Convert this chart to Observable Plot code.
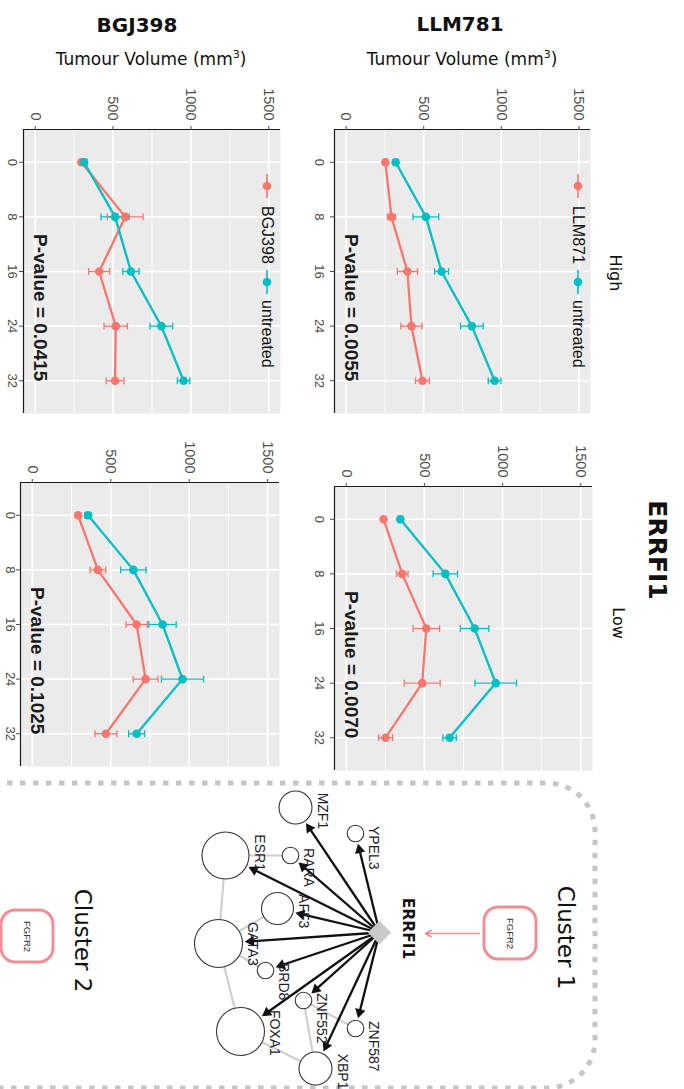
<!DOCTYPE html>
<html><head><meta charset="utf-8">
<script src="https://cdn.jsdelivr.net/npm/d3@7"></script>
<script src="https://cdn.jsdelivr.net/npm/@observablehq/plot@0.6"></script>
<style>
html,body{margin:0;padding:0;background:#fff;}
#fig{position:relative;width:684px;height:1089px;overflow:hidden;background:#fff;}
#fig svg{position:absolute;}
</style></head><body><div id="fig"></div>
<script>
// ---------------- data: tumour growth curves ----------------
const days = [0, 8, 16, 24, 32];
const volumeTicks = [0, 500, 1000, 1500];
const volumeMinorTicks = [250, 750, 1250];

const llmHighTreated = [253, 292, 395, 421, 492];
const llmHighTreatedSE = [12, 25, 65, 68, 45];
const llmHighUntreated = [319, 514, 615, 810, 957];
const llmHighUntreatedSE = [15, 83, 45, 73, 41];

const llmLowTreated = [239, 358, 512, 486, 252];
const llmLowTreatedSE = [10, 37, 85, 115, 45];
const llmLowUntreated = [346, 634, 821, 956, 661];
const llmLowUntreatedSE = [15, 78, 91, 133, 43];

const bgjHighTreated = [297, 578, 411, 517, 513];
const bgjHighTreatedSE = [15, 115, 68, 75, 57];
const bgjHighUntreated = [314, 513, 615, 810, 953];
const bgjHighUntreatedSE = [20, 90, 52, 73, 40];

const bgjLowTreated = [292, 418, 665, 722, 469];
const bgjLowTreatedSE = [10, 50, 68, 79, 70];
const bgjLowUntreated = [355, 644, 830, 957, 665];
const bgjLowUntreatedSE = [20, 81, 87, 134, 51];

const pValueLlmHigh = "0.0055";
const pValueLlmLow = "0.0070";
const pValueBgjHigh = "0.0415";
const pValueBgjLow = "0.1025";

// ---------------- data: ERRFI1 network ----------------
const hubGene = "ERRFI1";
const targetGenes = ["MZF1", "YPEL3", "ESR1", "RARA", "AFF3", "GATA3", "BRD8", "ZNF552", "ZNF587", "FOXA1", "XBP1"];
const targetLayoutX = [295, 355, 225, 290, 277, 218, 265, 303, 355, 240, 315];
const targetLayoutY = [807, 833, 855, 855, 908, 943, 970, 1000, 1028, 1031, 1068];
const targetRadius = [16.5, 8.3, 23.5, 8.3, 16, 24, 8.3, 8.3, 8.3, 24, 16.5];
const hubLayout = [379, 932];
const coexpressionEdges = [["ESR1", "RARA"], ["ESR1", "GATA3"], ["AFF3", "GATA3"], ["GATA3", "BRD8"],
  ["GATA3", "FOXA1"], ["FOXA1", "XBP1"], ["ZNF552", "XBP1"], ["ZNF552", "ZNF587"]];
const clusterNames = ["Cluster 1", "Cluster 2"];
const clusterGene = "FGFR2";
const clusterGeneLayoutX = [510, 27];
const clusterGeneLayoutY = [933, 936];

// ---------------- layout ----------------
const fig = document.getElementById("fig");
const RED = "#F8766D", TEAL = "#00BFC4";
const SANS = "'Liberation Sans', Arial, sans-serif";
const DEJA = "'DejaVu Sans', sans-serif";
const pValueDay = 21.3, pValueVolume = 30;

function place(el, left, top) {
  el.style.left = left + "px"; el.style.top = top + "px";
  fig.appendChild(el);
}

function drawPanel(cfg) {
  const [fx1, fx2, fy1, fy2] = cfg.frame;
  const mL = 32, mT = 52, mR = 4, mB = 4;
  const rows = [];
  days.forEach((day, i) => {
    rows.push({day, group: cfg.treatedName, v: cfg.treated[i], se: cfg.treatedSE[i]});
    rows.push({day, group: "untreated", v: cfg.untreated[i], se: cfg.untreatedSE[i]});
  });
  const caps = rows.flatMap(d => [d.v - d.se, d.v + d.se].map(v => ({v, day: d.day, group: d.group})));
  const axisStyle = {tickRotate: 90, tickSize: 4, fontFamily: SANS, label: null, color: "#4d4d4d"};
  const chart = Plot.plot({
    width: fx2 - fx1 + mL + mR,
    height: fy2 - fy1 + mT + mB,
    marginLeft: mL, marginTop: mT, marginRight: mR, marginBottom: mB,
    x: {domain: [-75, 1575]},
    y: {domain: [-4.8, 36.8], reverse: true},
    color: {domain: [cfg.treatedName, "untreated"], range: [RED, TEAL]},
    style: {background: "transparent", fontFamily: SANS, color: "#4d4d4d"},
    marks: [
      Plot.frame({fill: "#EBEBEB", stroke: null}),
      Plot.gridX({ticks: volumeMinorTicks, stroke: "#fff", strokeOpacity: 1, strokeWidth: 0.9}),
      Plot.gridX({ticks: volumeTicks, stroke: "#fff", strokeOpacity: 1, strokeWidth: 1.6}),
      Plot.gridY({ticks: days, stroke: "#fff", strokeOpacity: 1, strokeWidth: 1.6}),
      Plot.ruleY([-4.8], {stroke: "#1a1a1a", strokeWidth: 1.2}),
      Plot.ruleX([-75], {stroke: "#1a1a1a", strokeWidth: 1.2}),
      Plot.axisX({...axisStyle, anchor: "top", ticks: volumeTicks, tickFormat: d => String(d), tickPadding: 5, fontSize: 14.5}),
      Plot.axisY({...axisStyle, anchor: "left", ticks: days, tickFormat: d => String(d), tickPadding: cfg.dayPad, fontSize: 13}),
      Plot.link(rows, {x1: d => d.v - d.se, x2: d => d.v + d.se, y1: "day", y2: "day", stroke: "group", strokeWidth: 1.3}),
      Plot.link(caps, {x1: "v", x2: "v", y1: d => d.day - 0.5, y2: d => d.day + 0.5, stroke: "group", strokeWidth: 1.3}),
      Plot.line(rows, {x: "v", y: "day", z: "group", stroke: "group", strokeWidth: 2.3}),
      Plot.dot(rows, {x: "v", y: "day", fill: "group", r: 4.3}),
      Plot.text([`P-value = ${cfg.pValue}`], {x: () => pValueVolume, y: () => pValueDay, rotate: 90,
        fontWeight: "bold", fontSize: 19, fontFamily: SANS, fill: "#1a1a1a"})
    ]
  });
  place(chart, fx1 - mL, fy1 - mT);
}

drawPanel({treatedName: "BGJ398", treated: bgjHighTreated, treatedSE: bgjHighTreatedSE, dayPad: 2,
  untreated: bgjHighUntreated, untreatedSE: bgjHighUntreatedSE, pValue: pValueBgjHigh, frame: [23, 280, 129, 413]});
drawPanel({treatedName: "LLM871", treated: llmHighTreated, treatedSE: llmHighTreatedSE, dayPad: 6,
  untreated: llmHighUntreated, untreatedSE: llmHighUntreatedSE, pValue: pValueLlmHigh, frame: [334, 590, 129, 413]});
drawPanel({treatedName: "BGJ398", treated: bgjLowTreated, treatedSE: bgjLowTreatedSE, dayPad: 1,
  untreated: bgjLowUntreated, untreatedSE: bgjLowUntreatedSE, pValue: pValueBgjLow, frame: [20, 279, 482, 766]});
drawPanel({treatedName: "LLM871", treated: llmLowTreated, treatedSE: llmLowTreatedSE, dayPad: 6,
  untreated: llmLowUntreated, untreatedSE: llmLowUntreatedSE, pValue: pValueLlmLow, frame: [334, 592, 486, 770]});

// ---------------- network ----------------
const genes = targetGenes.map((name, i) => ({name, x: targetLayoutX[i], y: targetLayoutY[i], r: targetRadius[i]}));
const geneByName = new Map(genes.map(g => [g.name, g]));
const hub = {name: hubGene, x: hubLayout[0], y: hubLayout[1]};
const edges = coexpressionEdges.map(([a, b]) => ({a: geneByName.get(a), b: geneByName.get(b)}));
const HEAD = 5.9;
const regulations = genes.map(g => {
  const dx = g.x - hub.x, dy = g.y - hub.y, L = Math.hypot(dx, dy);
  const ux = dx / L, uy = dy / L;
  const tipX = g.x - ux * (g.r + 2.5), tipY = g.y - uy * (g.r + 2.5);
  return {x1: hub.x, y1: hub.y, hx: tipX - ux * HEAD, hy: tipY - uy * HEAD,
    angle: Math.atan2(dx, -dy) * 180 / Math.PI};
});
const clusters = clusterNames.map((name, i) => ({name, gx: clusterGeneLayoutX[i], gy: clusterGeneLayoutY[i]}));
const clusterBox = [{x1: -80, x2: 595, y1: 783, y2: 1088}];

const net = Plot.plot({
  width: 684, height: 319, margin: 0,
  x: {domain: [0, 684], range: [0, 684], axis: null},
  y: {domain: [770, 1089], range: [0, 319], axis: null},
  r: {type: "identity"},
  style: {background: "transparent"},
  marks: [
    Plot.rect(clusterBox, {x1: "x1", x2: "x2", y1: "y1", y2: "y2", rx: 48, fill: "none",
      stroke: "#c6c6c6", strokeWidth: 5, strokeDasharray: "5.5 7.5"}),
    Plot.link(edges, {x1: d => d.a.x, y1: d => d.a.y, x2: d => d.b.x, y2: d => d.b.y, stroke: "#cfcfcf", strokeWidth: 2.2}),
    Plot.link(regulations, {x1: "x1", y1: "y1", x2: "hx", y2: "hy", stroke: "#111", strokeWidth: 2.3}),
    Plot.dot(regulations, {x: "hx", y: "hy", symbol: "triangle", r: 3.9, rotate: "angle", fill: "#111"}),
    Plot.dot(genes, {x: "x", y: "y", r: "r", fill: "white", stroke: "#333", strokeWidth: 1.1}),
    Plot.text(genes, {x: d => d.x + d.r + 10, y: d => d.y - d.r * 0.9, text: "name", rotate: 90, textAnchor: "start",
      fontSize: 14, fontFamily: SANS, fill: "#1c1c2c"}),
    Plot.dot([hub], {x: "x", y: "y", symbol: "diamond2", r: 10.5, fill: "#c9c9c9"}),
    Plot.text([hub], {x: d => d.x + 28, y: d => d.y - 4, text: "name", rotate: 90, fontSize: 15.5,
      fontWeight: "bold", fontFamily: DEJA, fill: "#111"}),
    Plot.arrow(clusters.slice(0, 1), {x1: d => d.gx - 31, y1: "gy", x2: d => hub.x + 46, y2: "gy",
      stroke: "#F08A93", strokeWidth: 1.6, headLength: 6}),
    Plot.rect(clusters, {x1: d => d.gx - 26, x2: d => d.gx + 26, y1: d => d.gy - 26, y2: d => d.gy + 26,
      rx: 14, fill: "white", stroke: "#F38D96", strokeWidth: 3}),
    Plot.text(clusters, {x: "gx", y: "gy", text: () => clusterGene, rotate: 90, fontSize: 9.5,
      fontFamily: SANS, fill: "#333", ariaLabel: "fgfr2"}),
    Plot.text(clusters, {x: d => d.gx + 55, y: d => d.gy + 4, text: "name", rotate: 90, fontSize: 23,
      fontFamily: DEJA, fill: "#111"})
  ]
});
d3.select(net).selectAll('g[aria-label="fgfr2"] text').style("letter-spacing", "2.5px");
place(net, 0, 770);

// ---------------- titles, strip labels and legends ----------------
const ov = d3.create("svg").attr("width", 684).attr("height", 1089).style("left", "0px").style("top", "0px");
function htext(x, y, str, size, weight, family) {
  return ov.append("text").attr("x", x).attr("y", y).attr("text-anchor", "middle")
    .attr("font-size", size).attr("font-weight", weight).attr("font-family", family).attr("fill", "#111").text(str);
}
function vtext(x, y, str, size, weight, family, anchor = "middle") {
  return ov.append("text").attr("transform", `translate(${x},${y}) rotate(90)`).attr("text-anchor", anchor)
    .attr("dominant-baseline", "central").attr("font-size", size).attr("font-weight", weight)
    .attr("font-family", family).attr("fill", "#111").text(str);
}
htext(137, 32, "BGJ398", 20, "bold", DEJA);
htext(460, 31, "LLM781", 20, "bold", DEJA);
for (const cx of [151, 462]) {
  const t = htext(cx, 65, "Tumour Volume (mm", 17, "normal", DEJA);
  t.append("tspan").attr("font-size", 11).attr("dy", -7).text("3");
  t.append("tspan").attr("dy", 7).text(")");
}
vtext(615, 273, "High", 16, "normal", DEJA);
vtext(618, 623, "Low", 16, "normal", DEJA);
vtext(657, 550, "ERRFI1", 25, "bold", DEJA);

function legend(x, treatedName) {
  [[186, RED, treatedName, 206], [282, TEAL, "untreated", 300]].forEach(([ky, col, lab, ty]) => {
    ov.append("line").attr("x1", x).attr("x2", x).attr("y1", ky - 12).attr("y2", ky + 12)
      .attr("stroke", col).attr("stroke-width", 1.6);
    ov.append("circle").attr("cx", x).attr("cy", ky).attr("r", 4.3).attr("fill", col);
    vtext(x, ty, lab, 16, "normal", SANS, "start");
  });
}
legend(267, "BGJ398");
legend(578, "LLM871");
fig.appendChild(ov.node());
</script>
</body></html>
